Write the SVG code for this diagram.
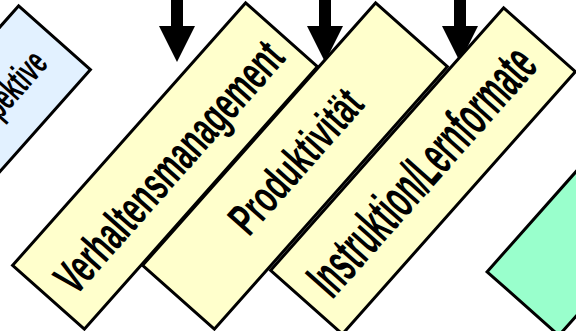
<svg xmlns="http://www.w3.org/2000/svg" width="576" height="331" viewBox="0 0 576 331">
<style>
.box{stroke:#000;stroke-width:3;stroke-linejoin:miter}
.y{fill:#FFFFCC}
.b{fill:#E2F1FF}
.g{fill:#99FFCC}
.t{font-family:"Liberation Sans",Arial,sans-serif;font-weight:bold;fill:#000}
.arr{fill:#000}
</style>
<g id="connectors">
<polygon class="arr" points="171,-2 183,-2 183,26 195,26 177,62 159,26 171,26"/>
<polygon class="arr" points="319,-2 331,-2 331,26 343,26 325,62 307,26 319,26"/>
<polygon class="arr" points="454,-2 466,-2 466,26 478,26 460,62 442,26 454,26"/>
</g>
<g id="perspektive" transform="translate(-62,169) rotate(-48.4)">
<rect class="box b" x="-175.5" y="-48" width="351" height="96"/>
<text class="t" x="152" y="14" font-size="38" text-anchor="end" textLength="122" lengthAdjust="spacingAndGlyphs">Perspektive</text>
</g>
<g id="verhaltensmanagement" transform="translate(165,166) rotate(-48.4)">
<rect class="box y" x="-175.5" y="-48" width="351" height="96"/>
<text class="t" x="-157" y="20" font-size="48" textLength="318" lengthAdjust="spacingAndGlyphs">Verhaltensmanagement</text>
</g>
<g id="produktivitaet" transform="translate(295,166) rotate(-48.4)">
<rect class="box y" x="-175.5" y="-48" width="351" height="96"/>
<text class="t" x="-84" y="13" font-size="46" textLength="176" lengthAdjust="spacingAndGlyphs">Produktivität</text>
</g>
<g id="instruktion" transform="translate(423,171) rotate(-48.4)">
<rect class="box y" x="-175.5" y="-48" width="351" height="96"/>
<text class="t" x="-157" y="18" font-size="56" textLength="312" lengthAdjust="spacingAndGlyphs">Instruktion/Lernformate</text>
</g>
<g id="gruen" transform="translate(639.5,172.4) rotate(-48.4)">
<rect class="box g" x="-175.5" y="-48" width="351" height="96"/>
</g>
</svg>
